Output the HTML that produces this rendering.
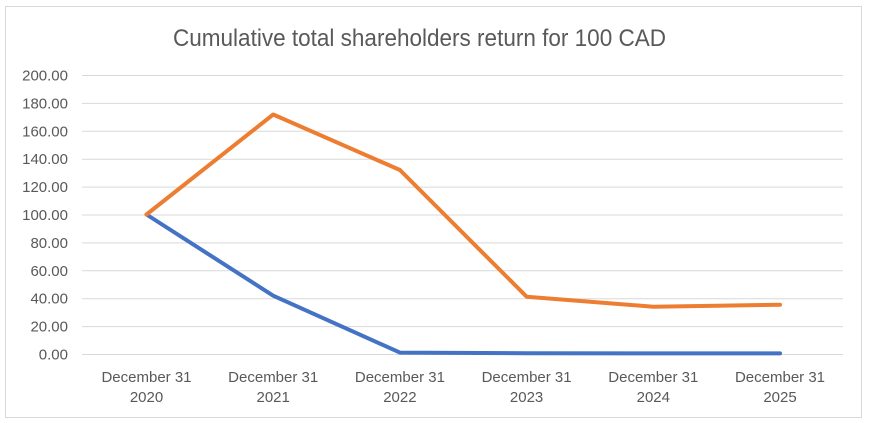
<!DOCTYPE html>
<html>
<head>
<meta charset="utf-8">
<style>
  html,body{margin:0;padding:0;background:#fff;}
  svg{display:block;}
  text{font-family:"Liberation Sans",Arial,sans-serif;fill:#595959;}
</style>
</head>
<body>
<svg width="869" height="423" viewBox="0 0 869 423" xmlns="http://www.w3.org/2000/svg">
  <rect x="0" y="0" width="869" height="423" fill="#fff"/>
  <rect x="5.5" y="6.5" width="856" height="411" fill="#fff" stroke="#D9D9D9" stroke-width="1"/>
  <text x="419.5" y="46" font-size="24" text-anchor="middle" textLength="493" lengthAdjust="spacingAndGlyphs">Cumulative total shareholders return for 100 CAD</text>

  <g stroke="#D9D9D9" stroke-width="1">
    <line x1="82" y1="75.5" x2="843" y2="75.5"/>
    <line x1="82" y1="103.4" x2="843" y2="103.4"/>
    <line x1="82" y1="131.3" x2="843" y2="131.3"/>
    <line x1="82" y1="159.2" x2="843" y2="159.2"/>
    <line x1="82" y1="187.1" x2="843" y2="187.1"/>
    <line x1="82" y1="215" x2="843" y2="215"/>
    <line x1="82" y1="242.9" x2="843" y2="242.9"/>
    <line x1="82" y1="270.8" x2="843" y2="270.8"/>
    <line x1="82" y1="298.7" x2="843" y2="298.7"/>
    <line x1="82" y1="326.6" x2="843" y2="326.6"/>
    <line x1="82" y1="354.5" x2="843" y2="354.5"/>
  </g>

  <g font-size="15" text-anchor="end">
    <text x="68" y="80.5">200.00</text>
    <text x="68" y="108.4">180.00</text>
    <text x="68" y="136.3">160.00</text>
    <text x="68" y="164.2">140.00</text>
    <text x="68" y="192.1">120.00</text>
    <text x="68" y="220">100.00</text>
    <text x="68" y="247.9">80.00</text>
    <text x="68" y="275.8">60.00</text>
    <text x="68" y="303.7">40.00</text>
    <text x="68" y="331.6">20.00</text>
    <text x="68" y="359.5">0.00</text>
  </g>

  <g font-size="15" text-anchor="middle">
    <text x="146.5" y="382">December 31</text><text x="146.5" y="402">2020</text>
    <text x="273.2" y="382">December 31</text><text x="273.2" y="402">2021</text>
    <text x="399.9" y="382">December 31</text><text x="399.9" y="402">2022</text>
    <text x="526.6" y="382">December 31</text><text x="526.6" y="402">2023</text>
    <text x="653.3" y="382">December 31</text><text x="653.3" y="402">2024</text>
    <text x="780" y="382">December 31</text><text x="780" y="402">2025</text>
  </g>

  <polyline fill="none" stroke="#4472C4" stroke-width="4" stroke-linejoin="round" stroke-linecap="round"
    points="146.5,214.5 273.2,295.7 399.9,352.6 526.6,353.2 653.3,353.4 780,353.4"/>
  <polyline fill="none" stroke="#ED7D31" stroke-width="4" stroke-linejoin="round" stroke-linecap="round"
    points="146.5,214.5 273.2,114.5 399.9,170 526.6,296.7 653.3,306.7 780,304.7"/>
</svg>
</body>
</html>
